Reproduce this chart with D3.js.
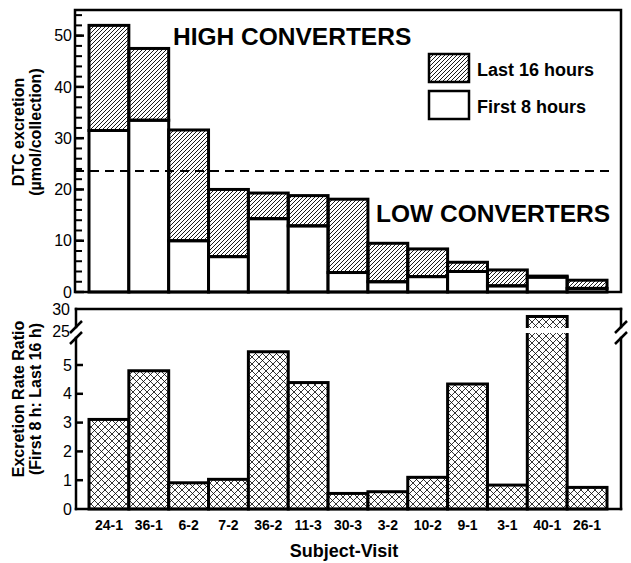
<!DOCTYPE html>
<html>
<head>
<meta charset="utf-8">
<script src="https://d3js.org/d3.v7.min.js"></script>
<style>
  body { margin: 0; background: #fff; }
  svg { font-family: "Liberation Sans", Arial, Helvetica, sans-serif; }
  .tick-label { font-size: 16px; }
  .axis-title { font-size: 16px; font-weight: bold; }
</style>
</head>
<body>
<svg id="chart" width="631" height="563"></svg>
<script>
// valores
const visits = ["24-1", "36-1", "6-2", "7-2", "36-2", "11-3", "30-3", "3-2", "10-2", "9-1", "3-1", "40-1", "26-1"];
const first8 = [31.5, 33.5, 10.0, 6.9, 14.3, 12.9, 3.8, 2.0, 3.0, 4.0, 1.2, 2.9, 0.7];
const last16 = [20.5, 14.0, 21.6, 13.1, 5.0, 5.9, 14.3, 7.5, 5.4, 1.8, 3.1, 0.2, 1.6];
const ratio = [3.11, 4.80, 0.91, 1.03, 5.46, 4.39, 0.54, 0.60, 1.10, 4.34, 0.83, 28.3, 0.75];
const topTicks = [0, 10, 20, 30, 40, 50];
const lowTicks = [0, 1, 2, 3, 4, 5];
const highTicks = [25, 30];
const cutoff = 23.6;

const svg = d3.select("#chart");
const ink = "#000";

// padrões de hachura
const defs = svg.append("defs");
defs.append("pattern")
  .attr("id", "diag").attr("patternUnits", "userSpaceOnUse")
  .attr("width", 4).attr("height", 4)
  .append("path")
  .attr("d", "M-1,1 l2,-2 M0,4 l4,-4 M3,5 l2,-2")
  .attr("stroke", ink).attr("stroke-width", 0.9);

const cross = defs.append("pattern")
  .attr("id", "cross").attr("patternUnits", "userSpaceOnUse")
  .attr("width", 7).attr("height", 7);
cross.append("rect").attr("width", 7).attr("height", 7).attr("fill", "#fff");
cross.append("path")
  .attr("d", "M0,0 L7,7 M7,0 L0,7")
  .attr("stroke", ink).attr("stroke-width", 0.8);

const left = 75, right = 621;
const x = d3.scaleBand().domain(visits).range([89, 607]).paddingInner(0);

// ===== painel superior =====
const yTop = d3.scaleLinear().domain([0, 55]).range([292, 10]);

const gTop = svg.append("g");

visits.forEach((v, i) => {
  const f = first8[i], l = last16[i];
  gTop.append("rect")
    .attr("x", x(v)).attr("width", x.bandwidth())
    .attr("y", yTop(f)).attr("height", yTop(0) - yTop(f))
    .attr("fill", "#fff").attr("stroke", ink).attr("stroke-width", 3);
  gTop.append("rect")
    .attr("x", x(v)).attr("width", x.bandwidth())
    .attr("y", yTop(f + l)).attr("height", yTop(f) - yTop(f + l))
    .attr("fill", "url(#diag)").attr("stroke", ink).attr("stroke-width", 3);
});

// moldura
gTop.append("rect")
  .attr("x", left).attr("y", yTop(55))
  .attr("width", right - left).attr("height", yTop(0) - yTop(55))
  .attr("fill", "none").attr("stroke", ink).attr("stroke-width", 2.5);

// ticks internos: menores a cada 2, maiores a cada 10
d3.range(0, 55, 2).forEach(t => {
  gTop.append("line")
    .attr("x1", left).attr("x2", left + 7)
    .attr("y1", yTop(t)).attr("y2", yTop(t))
    .attr("stroke", ink).attr("stroke-width", 2);
});
topTicks.forEach(t => {
  gTop.append("line")
    .attr("x1", left).attr("x2", left + 9)
    .attr("y1", yTop(t)).attr("y2", yTop(t))
    .attr("stroke", ink).attr("stroke-width", 2.5);
  gTop.append("text").attr("class", "tick-label")
    .attr("x", 72).attr("y", yTop(t)).attr("dy", "0.35em")
    .attr("text-anchor", "end").text(t);
});

// linha de corte
gTop.append("line")
  .attr("x1", left).attr("x2", 612)
  .attr("y1", yTop(cutoff)).attr("y2", yTop(cutoff))
  .attr("stroke", ink).attr("stroke-width", 2)
  .attr("stroke-dasharray", "9,6");

gTop.append("text")
  .attr("x", 173).attr("y", 45)
  .style("font-size", "24.5px").style("font-weight", "bold")
  .text("HIGH CONVERTERS");
gTop.append("text")
  .attr("x", 376).attr("y", 222)
  .style("font-size", "24.5px").style("font-weight", "bold")
  .text("LOW CONVERTERS");

// legenda
const legend = [
  {label: "Last 16 hours", fill: "url(#diag)", y: 54},
  {label: "First 8 hours", fill: "#fff", y: 91}
];
legend.forEach(d => {
  gTop.append("rect")
    .attr("x", 429).attr("y", d.y).attr("width", 40).attr("height", 28)
    .attr("fill", d.fill).attr("stroke", ink).attr("stroke-width", 2.5);
  gTop.append("text")
    .attr("x", 477).attr("y", d.y + 22)
    .style("font-size", "18px").style("font-weight", "bold")
    .text(d.label);
});

// título eixo y superior
const tTop = gTop.append("text").attr("class", "axis-title")
  .attr("transform", "translate(24,132) rotate(-90)")
  .attr("text-anchor", "middle");
tTop.append("tspan").attr("x", 0).attr("y", 0).text("DTC excretion");
tTop.append("tspan").attr("x", 0).attr("y", 17).text("(\u00b5mol/collection)");

// ===== painel inferior =====
const yLow = d3.scaleLinear().domain([0, 5]).range([509, 365]);
const yHigh = d3.scaleLinear().domain([25, 30]).range([331, 309]);
const breakTop = 327, breakBot = 338;

const gBot = svg.append("g");
const bLeft = 76;

visits.forEach((v, i) => {
  const r = ratio[i];
  const yv = r > 20 ? yHigh(r) : yLow(r);
  gBot.append("rect")
    .attr("x", x(v)).attr("width", x.bandwidth())
    .attr("y", yv).attr("height", yLow(0) - yv)
    .attr("fill", "url(#cross)").attr("stroke", ink).attr("stroke-width", 3);
  if (r > 20) {
    // quebra na barra
    gBot.append("rect")
      .attr("x", x(v) - 3).attr("width", x.bandwidth() + 6)
      .attr("y", 328).attr("height", 5)
      .attr("fill", "#fff");
  }
});

// moldura com quebras
const frame = [
  [bLeft, yHigh(30), right, yHigh(30)],
  [bLeft, yLow(0), right, yLow(0)],
  [bLeft, yHigh(30), bLeft, breakTop],
  [bLeft, breakBot, bLeft, yLow(0)],
  [right, yHigh(30), right, breakTop],
  [right, breakBot, right, yLow(0)]
];
frame.forEach(s => {
  gBot.append("line")
    .attr("x1", s[0]).attr("y1", s[1]).attr("x2", s[2]).attr("y2", s[3])
    .attr("stroke", ink).attr("stroke-width", 2.5).attr("stroke-linecap", "square");
});

// marcas de quebra //
[bLeft, right].forEach(cx => {
  [breakTop, breakBot].forEach(cy => {
    gBot.append("line")
      .attr("x1", cx - 6).attr("y1", cy + 6)
      .attr("x2", cx + 6).attr("y2", cy - 6)
      .attr("stroke", ink).attr("stroke-width", 2.5);
  });
});

lowTicks.forEach(t => {
  if (t > 0) {
    gBot.append("line")
      .attr("x1", bLeft).attr("x2", bLeft + 7)
      .attr("y1", yLow(t)).attr("y2", yLow(t))
      .attr("stroke", ink).attr("stroke-width", 2.5);
  }
  gBot.append("text").attr("class", "tick-label")
    .attr("x", 72).attr("y", yLow(t)).attr("dy", "0.35em")
    .attr("text-anchor", "end").text(t);
});
highTicks.forEach(t => {
  gBot.append("text").attr("class", "tick-label")
    .attr("x", 70).attr("y", yHigh(t)).attr("dy", "0.35em")
    .attr("text-anchor", "end").text(t);
});

// rótulos do eixo x
visits.forEach(v => {
  gBot.append("text")
    .attr("x", x(v) + x.bandwidth() / 2).attr("y", 530)
    .attr("text-anchor", "middle")
    .style("font-size", "14px").style("font-weight", "bold")
    .text(v);
});

gBot.append("text")
  .attr("x", 344).attr("y", 557).attr("text-anchor", "middle")
  .style("font-size", "18px").style("font-weight", "bold")
  .text("Subject-Visit");

const tBot = gBot.append("text").attr("class", "axis-title")
  .attr("transform", "translate(24,399) rotate(-90)")
  .attr("text-anchor", "middle");
tBot.append("tspan").attr("x", 0).attr("y", 0).text("Excretion Rate Ratio");
tBot.append("tspan").attr("x", 0).attr("y", 17).text("(First 8 h: Last 16 h)");
</script>
</body>
</html>
